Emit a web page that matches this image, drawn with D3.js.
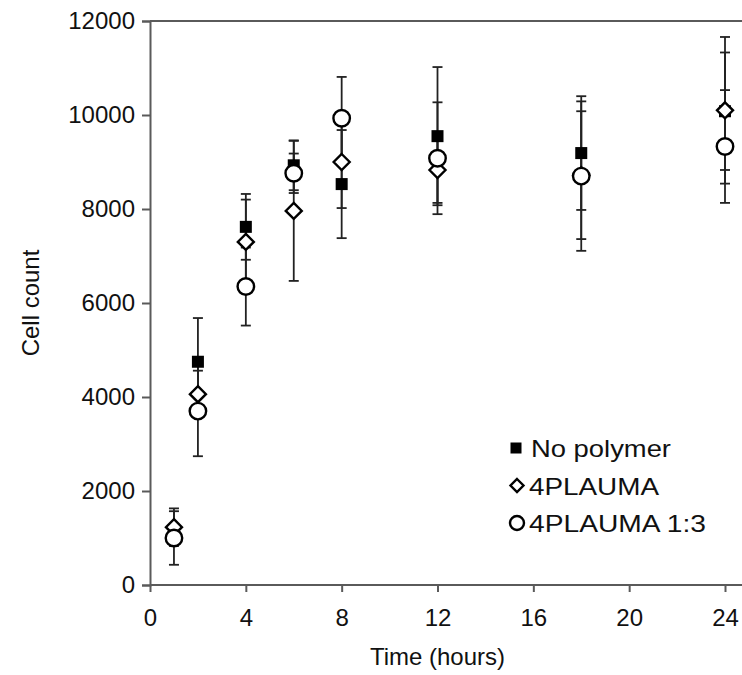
<!DOCTYPE html>
<html>
<head>
<meta charset="utf-8">
<script src="https://cdn.jsdelivr.net/npm/d3@7"></script>
<style>
  body { margin: 0; background: #fff; }
  svg { display: block; }
  text { font-family: "Liberation Sans", Arial, sans-serif; fill: #111; }
</style>
</head>
<body>
<svg id="chart" width="742" height="675"></svg>
<script>
// time points (hours)
const times = [1, 2, 4, 6, 8, 12, 18, 24];

// mean cell counts and error bar half-widths
const noPolymer    = [null, 4750, 7620, 8930, 8530, 9550, 9190, 10080];
const noPolymerErr = [null,  930,  700,  530, 1150, 1470, 1210,  1250];
const plauma       = [1230, 4060, 7300, 7960, 9000, 8830, 8720, 10100];
const plaumaErr    = [ 400,  500,  900, 1490,  980,  700, 1360,  1560];
const plauma13     = [1000, 3700, 6350, 8760, 9930, 9080, 8700, 9330];
const plauma13Err  = [ 570,  960,  830,  420,  880, 1190, 1590,  1200];

const xTicks = [0, 4, 8, 12, 16, 20, 24];
const yTicks = [0, 2000, 4000, 6000, 8000, 10000, 12000];

const seriesNames = ["No polymer", "4PLAUMA", "4PLAUMA 1:3"];
const seriesShapes = ["square", "diamond", "circle"];
const legendWidths = [140, 130, 177]; // text widths as they appear in the figure

const series = [
  {name: seriesNames[0], shape: seriesShapes[0], vals: noPolymer, errs: noPolymerErr},
  {name: seriesNames[1], shape: seriesShapes[1], vals: plauma, errs: plaumaErr},
  {name: seriesNames[2], shape: seriesShapes[2], vals: plauma13, errs: plauma13Err}
];

const svg = d3.select("#chart");
const plotLeft = 150, plotTop = 21, plotBottom = 585;

const x = d3.scaleLinear().domain([0, 24]).range([plotLeft, 725]);
const y = d3.scaleLinear().domain([0, 12000]).range([plotBottom, plotTop]);

const axisColor = "#5a5a5a";
const fontSize = "24px";

// y axis
const yAxis = svg.append("g")
  .attr("transform", `translate(${plotLeft},0)`)
  .call(d3.axisLeft(y).tickValues(yTicks).tickSize(8).tickPadding(7).tickFormat(d3.format("d")));
yAxis.select(".domain").attr("stroke", axisColor).attr("stroke-width", 2);
yAxis.selectAll(".tick line").attr("stroke", axisColor).attr("stroke-width", 2);
yAxis.selectAll("text").style("font-size", fontSize).attr("fill", "#111");

// x axis
const xAxis = svg.append("g")
  .attr("transform", `translate(0,${plotBottom})`)
  .call(d3.axisBottom(x).tickValues(xTicks).tickSize(7).tickSizeOuter(0).tickPadding(17));
xAxis.select(".domain").remove();
xAxis.selectAll(".tick line").attr("stroke", axisColor).attr("stroke-width", 2);
xAxis.selectAll("text").style("font-size", fontSize).attr("fill", "#111");
svg.append("line")
  .attr("x1", plotLeft).attr("x2", 742)
  .attr("y1", plotBottom).attr("y2", plotBottom)
  .attr("stroke", axisColor).attr("stroke-width", 2);

// top border
svg.append("line")
  .attr("x1", plotLeft).attr("x2", 742)
  .attr("y1", plotTop).attr("y2", plotTop)
  .attr("stroke", axisColor).attr("stroke-width", 2);

// axis titles
svg.append("text")
  .attr("x", (x(0) + x(24)) / 2).attr("y", 665)
  .attr("text-anchor", "middle")
  .style("font-size", fontSize)
  .text("Time (hours)");
svg.append("text")
  .attr("transform", `translate(39,${(plotTop + plotBottom) / 2}) rotate(-90)`)
  .attr("text-anchor", "middle")
  .style("font-size", fontSize)
  .text("Cell count");

function drawMarker(g, shape, cx, cy, size) {
  if (shape === "square") {
    g.append("rect")
      .attr("x", cx - size / 2).attr("y", cy - size / 2)
      .attr("width", size).attr("height", size)
      .attr("fill", "#000");
  } else if (shape === "diamond") {
    const r = size / 2;
    g.append("path")
      .attr("d", `M${cx},${cy - r}L${cx + r},${cy}L${cx},${cy + r}L${cx - r},${cy}Z`)
      .attr("fill", "#fff").attr("stroke", "#000").attr("stroke-width", 2.4);
  } else {
    g.append("circle")
      .attr("cx", cx).attr("cy", cy).attr("r", size / 2)
      .attr("fill", "#fff").attr("stroke", "#000").attr("stroke-width", 2.4);
  }
}

const markerSize = {square: 12, diamond: 16, circle: 16.5};
const legendSize = {square: 11, diamond: 13, circle: 14};

// error bars first, then markers
const errG = svg.append("g");
series.forEach(s => {
  times.forEach((t, i) => {
    if (s.vals[i] == null) return;
    const cx = x(t);
    const y1 = y(s.vals[i] + s.errs[i]), y2 = y(s.vals[i] - s.errs[i]);
    errG.append("line").attr("x1", cx).attr("x2", cx).attr("y1", y1).attr("y2", y2)
      .attr("stroke", "#222").attr("stroke-width", 1.8);
    [y1, y2].forEach(yy => {
      errG.append("line").attr("x1", cx - 5).attr("x2", cx + 5).attr("y1", yy).attr("y2", yy)
        .attr("stroke", "#222").attr("stroke-width", 1.8);
    });
  });
});

const markG = svg.append("g");
series.forEach(s => {
  times.forEach((t, i) => {
    if (s.vals[i] == null) return;
    drawMarker(markG, s.shape, x(t), y(s.vals[i]), markerSize[s.shape]);
  });
});

// legend
const legend = svg.append("g");
series.forEach((s, i) => {
  const base = 457 + i * 37.5;
  drawMarker(legend, s.shape, s.shape === "square" ? 516 : 517, base - 9, legendSize[s.shape]);
  legend.append("text")
    .attr("x", s.shape === "square" ? 531 : 529).attr("y", base)
    .attr("textLength", legendWidths[i])
    .attr("lengthAdjust", "spacingAndGlyphs")
    .style("font-size", fontSize)
    .text(s.name);
});
</script>
</body>
</html>
